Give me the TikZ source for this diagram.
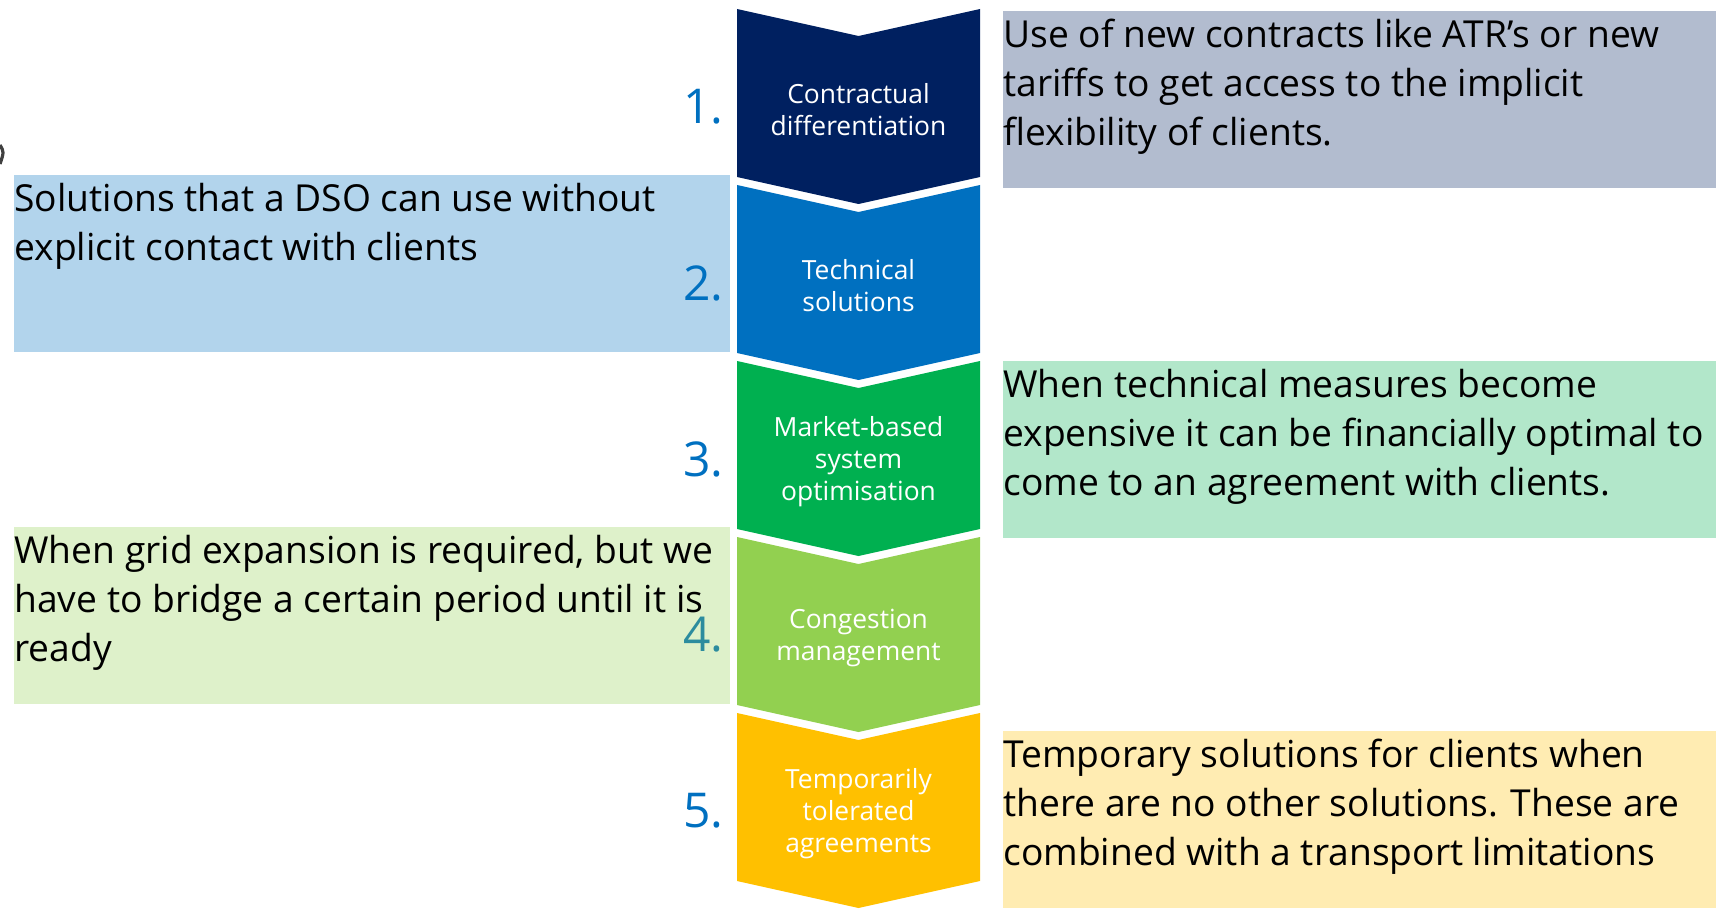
\documentclass[tikz,border=0pt]{standalone}
\usepackage{fontspec}
\setmainfont{Open Sans}
\definecolor{stageA}{HTML}{002060}
\definecolor{stageB}{HTML}{0070C0}
\definecolor{stageC}{HTML}{00B050}
\definecolor{stageD}{HTML}{92D050}
\definecolor{stageE}{HTML}{FFC000}
\begin{document}
\begin{tikzpicture}[x=0.5pt,y=-0.5pt]
        \tikzset{stage/.style={text=white,align=center,inner sep=0pt,
                font=\fontsize{13.2pt}{16pt}\selectfont},
            num/.style={text=stageB,anchor=east,inner sep=0pt,
                font=\fontsize{24pt}{24pt}\selectfont},
            desc/.style={anchor=north west,inner sep=0pt,align=left,
                font=\fontsize{18.6pt}{24.5pt}\selectfont}}
        \useasboundingbox (0,0) rectangle (1716,909);
        \draw[line width=1.6pt,black!75] (0,145) .. controls (4,152) .. (0,164);
        \foreach \i/\col/\txt [evaluate=\i as \ytop using 9+176*(\i-1)] in
            {1/stageA/{Contractual\\differentiation},
             2/stageB/{Technical\\solutions},
             3/stageC/{Market-based\\system\\optimisation},
             4/stageD/{Congestion\\management},
             5/stageE/{Temporarily\\tolerated\\agreements}}
        {
            \fill[\col] (737,\ytop) -- (858.5,\ytop+27) -- (980,\ytop)
                -- (980,\ytop+168) -- (858.5,\ytop+195) -- (737,\ytop+168) -- cycle;
            \node[stage] (stage\i) at (858.5,\ytop+101) {\txt};
            \node[num] (num\i) at (724,\ytop+98) {\i.};
        }
        \foreach \i/\col/\xl/\yt/\txt in
            {1/stageA/1003/11/{Use of new contracts like ATR’s or new\\tariffs to get access to the implicit\\flexibility of clients.},
             2/stageB/14/175/{Solutions that a DSO can use without\\explicit contact with clients},
             3/stageC/1003/361/{When technical measures become\\expensive it can be financially optimal to\\come to an agreement with clients.},
             4/stageD/14/527/{When grid expansion is required, but we\\have to bridge a certain period until it is\\ready},
             5/stageE/1003/731/{Temporary solutions for clients when\\there are no other solutions. These are\\combined with a transport limitations}}
        {
            \fill[\col,fill opacity=0.3] (\xl,\yt) rectangle ++(716,177);
            \node[desc] (desc\i) at (\xl,\yt+8) {\txt};
        }
\end{tikzpicture}
\end{document}
